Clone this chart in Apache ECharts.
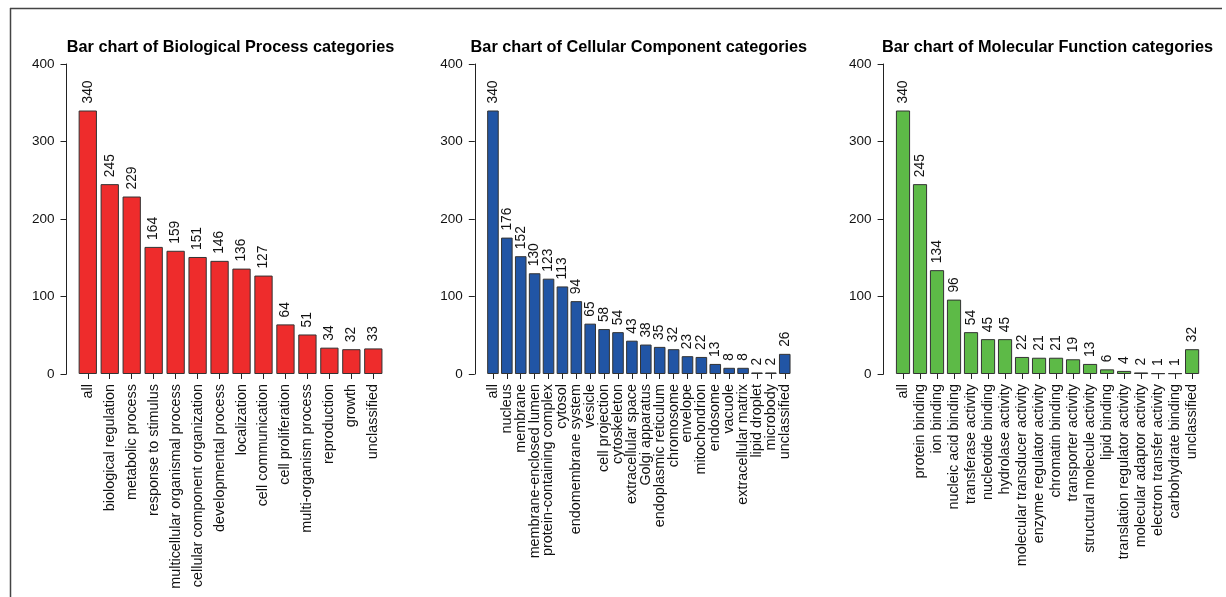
<!DOCTYPE html>
<html>
<head>
<meta charset="utf-8">
<script src="https://cdn.jsdelivr.net/npm/echarts@6/dist/echarts.min.js"></script>
<style>
html,body{margin:0;padding:0;background:#fff;}
#chart{width:1226px;height:597px;}
</style>
</head>
<body>
<div id="chart"></div>
<script>
// ---- data ----
var bpCategories = ["all","biological regulation","metabolic process","response to stimulus","multicellular organismal process","cellular component organization","developmental process","localization","cell communication","cell proliferation","multi-organism process","reproduction","growth","unclassified"];
var bpValues = [340,245,229,164,159,151,146,136,127,64,51,34,32,33];

var ccCategories = ["all","nucleus","membrane","membrane-enclosed lumen","protein-containing complex","cytosol","endomembrane system","vesicle","cell projection","cytoskeleton","extracellular space","Golgi apparatus","endoplasmic reticulum","chromosome","envelope","mitochondrion","endosome","vacuole","extracellular matrix","lipid droplet","microbody","unclassified"];
var ccValues = [340,176,152,130,123,113,94,65,58,54,43,38,35,32,23,22,13,8,8,2,2,26];

var mfCategories = ["all","protein binding","ion binding","nucleic acid binding","transferase activity","nucleotide binding","hydrolase activity","molecular transducer activity","enzyme regulator activity","chromatin binding","transporter activity","structural molecule activity","lipid binding","translation regulator activity","molecular adaptor activity","electron transfer activity","carbohydrate binding","unclassified"];
var mfValues = [340,245,134,96,54,45,45,22,21,21,19,13,6,4,2,1,1,32];

var titles = ["Bar chart of Biological Process categories","Bar chart of Cellular Component categories","Bar chart of Molecular Function categories"];
var yTicks = [0,100,200,300,400];

// ---- layout/styles ----
var FONT = '"Liberation Sans", Arial, Helvetica, sans-serif';
var TXT = '#111';
var panels = [
  {cats: bpCategories, vals: bpValues, color: '#EE2C2C', left: 76.8, width: 307.5, axisX: 66.5},
  {cats: ccCategories, vals: ccValues, color: '#2155A5', left: 486.0, width: 305.7, axisX: 474.8},
  {cats: mfCategories, vals: mfValues, color: '#5DBA47', left: 894.5, width: 306.1, axisX: 883.6}
];
var TOP = 64, BOTTOM = 374;

var chart = echarts.init(document.getElementById('chart'), null, {renderer: 'canvas'});

var grids = [], xAxes = [], yAxes = [], series = [], titleOpts = [];
panels.forEach(function (p, i) {
  grids.push({left: p.left, top: TOP, width: p.width, height: BOTTOM - TOP, containLabel: false});
  xAxes.push({
    type: 'category', gridIndex: i, data: p.cats,
    axisLine: {show: false},
    axisTick: {show: true, alignWithLabel: true, length: 5, lineStyle: {color: '#222', width: 1}},
    axisLabel: {interval: 0, rotate: 90, margin: 10, fontSize: 14.4, color: TXT, fontFamily: FONT}
  });
  yAxes.push({
    type: 'value', gridIndex: i, min: 0, max: 400, interval: 100,
    offset: p.left - p.axisX,
    splitLine: {show: false},
    axisLine: {show: true, lineStyle: {color: '#222', width: 1}},
    axisTick: {show: true, length: 6, lineStyle: {color: '#222', width: 1}},
    axisLabel: {margin: 12, fontSize: 13.5, color: TXT, fontFamily: FONT,
      formatter: function (v) { return yTicks.indexOf(v) >= 0 ? String(v) : ''; }}
  });
  series.push({
    type: 'bar', xAxisIndex: i, yAxisIndex: i, data: p.vals,
    barCategoryGap: '16.7%',
    itemStyle: {color: p.color, borderColor: '#333', borderWidth: 1},
    label: {show: true, position: 'top', rotate: 90, distance: 7, align: 'left', verticalAlign: 'middle',
      fontSize: 13.8, color: TXT, fontFamily: FONT},
    emphasis: {disabled: true},
    animation: false
  });
  var plotL = p.axisX, plotR = p.left + p.width + (p.left - p.axisX);
  titleOpts.push({
    text: titles[i], left: (plotL + plotR) / 2, top: 40, textAlign: 'center', padding: 0,
    textStyle: {fontSize: 16.3, fontWeight: 'bold', color: '#000', fontFamily: FONT}
  });
});

chart.setOption({
  animation: false,
  backgroundColor: '#fff',
  title: titleOpts,
  grid: grids,
  xAxis: xAxes,
  yAxis: yAxes,
  series: series,
  graphic: [
    {type: 'line', shape: {x1: 10, y1: 8.5, x2: 1222, y2: 8.5}, style: {stroke: '#444', lineWidth: 1.5}, silent: true},
    {type: 'line', shape: {x1: 10.5, y1: 8, x2: 10.5, y2: 597}, style: {stroke: '#444', lineWidth: 1.5}, silent: true}
  ]
});
</script>
</body>
</html>
